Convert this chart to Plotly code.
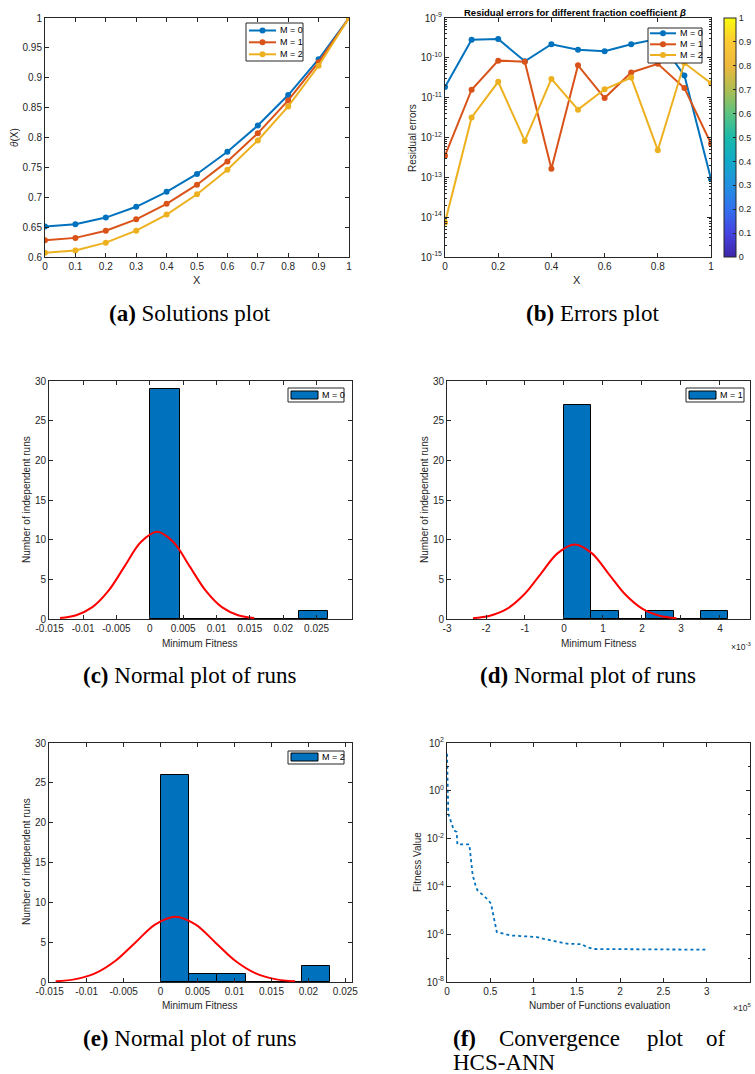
import plotly.graph_objects as go

W, H = 755, 1074

# ---------------- data ----------------
X_POINTS = [0.0, 0.1, 0.2, 0.3, 0.4, 0.5, 0.6, 0.7, 0.8, 0.9, 1.0]
SERIES = ["M = 0", "M = 1", "M = 2"]

theta_M0 = [0.651, 0.655, 0.666, 0.684, 0.709, 0.739, 0.776, 0.820, 0.871, 0.931, 1.0]
theta_M1 = [0.628, 0.632, 0.644, 0.663, 0.689, 0.721, 0.760, 0.807, 0.862, 0.926, 1.0]
theta_M2 = [0.607, 0.611, 0.624, 0.644, 0.671, 0.705, 0.746, 0.795, 0.852, 0.920, 1.0]

err_M0 = [1.86e-11, 2.86e-10, 2.97e-10, 8.2e-11, 2.2e-10, 1.6e-10, 1.46e-10, 2.2e-10, 3.0e-10, 3.6e-11, 9.1e-14]
err_M1 = [3.5e-13, 1.58e-11, 8.5e-11, 8.0e-11, 1.65e-13, 6.5e-11, 9.8e-12, 4.3e-11, 7.1e-11, 1.75e-11, 7.0e-13]
err_M2 = [7.4e-15, 3.2e-12, 2.5e-11, 8.2e-13, 2.95e-11, 5.0e-12, 1.62e-11, 3.2e-11, 4.8e-13, 7.4e-11, 2.3e-11]

# histograms (bin centres, counts, bin width) and fitted normal curves
c_centers = [0.00232, 0.00676, 0.0112, 0.01564, 0.02008, 0.02452]
c_counts = [29, 0, 0, 0, 0, 1]
c_width = 0.00444
c_fit_x = [-0.01345, -0.01103, -0.0086, -0.00618, -0.00375, -0.00133, 0.0011,
           0.00353, 0.00595, 0.00838, 0.0108, 0.01323, 0.01565]
c_fit_y = [0.12, 0.48, 1.49, 3.57, 6.67, 9.71, 11.0, 9.71, 6.67, 3.57, 1.49, 0.48, 0.12]

d_centers = [0.0003515, 0.0010545, 0.0017575, 0.0024605, 0.0031635, 0.0038665]
d_counts = [27, 1, 0, 1, 0, 1]
d_width = 0.000703
d_fit_x = [-0.002335, -0.0019, -0.001465, -0.00103, -0.000595, -0.00016, 0.000275,
           0.00071, 0.001145, 0.00158, 0.002015, 0.00245, 0.002885]
d_fit_y = [0.10, 0.41, 1.27, 3.05, 5.70, 8.30, 9.40, 8.30, 5.70, 3.05, 1.27, 0.41, 0.10]

e_centers = [0.001915, 0.005745, 0.009575, 0.013405, 0.017235, 0.021065]
e_counts = [26, 1, 1, 0, 0, 2]
e_width = 0.00383
e_fit_x = [-0.0142, -0.0115, -0.0088, -0.0061, -0.0034, -0.0007, 0.002,
           0.0047, 0.0074, 0.0101, 0.0128, 0.0155, 0.0182]
e_fit_y = [0.09, 0.36, 1.11, 2.66, 4.97, 7.24, 8.2, 7.24, 4.97, 2.66, 1.11, 0.36, 0.09]

f_evals = [0, 400, 1500, 5400, 8100, 11200, 12000, 25800, 27400, 29700, 33600, 35100,
           45900, 50900, 52400, 57500, 72900, 103700, 111500, 123000, 138500, 155800,
           161600, 169300, 300000]
f_fitness = [35.8, 1.05, 0.11, 0.042, 0.022, 0.019, 0.0057, 0.0057, 0.0017, 2.9e-4, 9.3e-5,
             6.9e-5, 3.1e-5, 1.9e-5, 1.0e-5, 1.23e-6, 8.9e-7, 7.6e-7, 6.4e-7, 5.2e-7,
             4.0e-7, 3.8e-7, 2.9e-7, 2.4e-7, 2.25e-7]

# tick labels
a_xticks = X_POINTS
a_xlabels = ["0", "0.1", "0.2", "0.3", "0.4", "0.5", "0.6", "0.7", "0.8", "0.9", "1"]
a_yticks = [0.6, 0.65, 0.7, 0.75, 0.8, 0.85, 0.9, 0.95, 1.0]
a_ylabels = ["0.6", "0.65", "0.7", "0.75", "0.8", "0.85", "0.9", "0.95", "1"]
b_xticks = [0, 0.2, 0.4, 0.6, 0.8, 1.0]
b_xlabels = ["0", "0.2", "0.4", "0.6", "0.8", "1"]
b_yticks = [1e-15, 1e-14, 1e-13, 1e-12, 1e-11, 1e-10, 1e-9]
b_ylabels = ["10<sup>-15</sup>", "10<sup>-14</sup>", "10<sup>-13</sup>", "10<sup>-12</sup>",
             "10<sup>-11</sup>", "10<sup>-10</sup>", "10<sup>-9</sup>"]
cb_ticks = [0, 0.1, 0.2, 0.3, 0.4, 0.5, 0.6, 0.7, 0.8, 0.9, 1.0]
cb_labels = ["0", "0.1", "0.2", "0.3", "0.4", "0.5", "0.6", "0.7", "0.8", "0.9", "1"]
hist_yticks = [0, 5, 10, 15, 20, 25, 30]
hist_ylabels = ["0", "5", "10", "15", "20", "25", "30"]
c_xticks = [-0.015, -0.01, -0.005, 0, 0.005, 0.01, 0.015, 0.02, 0.025]
c_xlabels = ["-0.015", "-0.01", "-0.005", "0", "0.005", "0.01", "0.015", "0.02", "0.025"]
d_xticks = [-0.003, -0.002, -0.001, 0, 0.001, 0.002, 0.003, 0.004]
d_xlabels = ["-3", "-2", "-1", "0", "1", "2", "3", "4"]
e_xticks = c_xticks
e_xlabels = c_xlabels
f_xticks = [0, 50000, 100000, 150000, 200000, 250000, 300000, 350000]
f_xlabels = ["0", "0.5", "1", "1.5", "2", "2.5", "3", "3.5"]
f_yticks = [1e-8, 1e-6, 1e-4, 1e-2, 1, 100]
f_ylabels = ["10<sup>-8</sup>", "10<sup>-6</sup>", "10<sup>-4</sup>", "10<sup>-2</sup>",
             "10<sup>0</sup>", "10<sup>2</sup>"]

# ---------------- style ----------------
BLUE, ORANGE, YELLOW = "#0072BD", "#D95319", "#EDB120"
COLORS = [BLUE, ORANGE, YELLOW]
AX = "#262626"
SANS = "Liberation Sans"
SERIF = "Liberation Serif"
PARULA = [[0.0, "#3e26a8"], [0.1, "#4543e1"], [0.2, "#3270ee"], [0.3, "#2290e0"],
          [0.4, "#12a9c8"], [0.5, "#1bb9aa"], [0.6, "#5cc380"], [0.7, "#aebd52"],
          [0.8, "#eeb83c"], [0.9, "#fcc932"], [1.0, "#f9fb0e"]]


def px(x):
    return x / W


def py(y):
    return 1 - y / H


def xd(l, r):
    return [px(l), px(r)]


def yd(t, b):
    return [py(b), py(t)]


def axis(domain, anchor, rng, tv, tt, typ="linear", minor=None):
    d = dict(domain=domain, anchor=anchor, range=rng, type=typ, tickvals=tv, ticktext=tt,
             showline=True, linecolor=AX, linewidth=1, mirror="ticks", ticks="inside",
             ticklen=4, tickcolor=AX, tickwidth=1, showgrid=False, zeroline=False,
             automargin=False, tickangle=0,
             tickfont=dict(family=SANS, size=10, color=AX))
    if minor is not None:
        d["minor"] = minor
    return d


fig = go.Figure()

# (a) solutions
for i, ys in enumerate([theta_M0, theta_M1, theta_M2]):
    fig.add_trace(go.Scatter(x=X_POINTS, y=ys, mode="lines+markers", name=SERIES[i],
                             line=dict(color=COLORS[i], width=2),
                             marker=dict(color=COLORS[i], size=6),
                             xaxis="x", yaxis="y", showlegend=False))

# (b) errors
for i, ys in enumerate([err_M0, err_M1, err_M2]):
    fig.add_trace(go.Scatter(x=X_POINTS, y=ys, mode="lines+markers", name=SERIES[i],
                             line=dict(color=COLORS[i], width=2),
                             marker=dict(color=COLORS[i], size=6),
                             xaxis="x2", yaxis="y2", showlegend=False))
fig.add_trace(go.Scatter(x=[None], y=[None], mode="markers", showlegend=False,
                         xaxis="x2", yaxis="y2",
                         marker=dict(color=[0], colorscale=PARULA, cmin=0, cmax=1,
                                     showscale=True,
                                     colorbar=dict(x=px(724), xanchor="left", xpad=0, ypad=0,
                                                   y=py(257), yanchor="bottom",
                                                   len=(257 - 18) / H, lenmode="fraction",
                                                   thickness=12, thicknessmode="pixels",
                                                   tickvals=cb_ticks, ticktext=cb_labels,
                                                   ticks="inside", ticklen=3, tickcolor=AX,
                                                   outlinecolor=AX, outlinewidth=1,
                                                   tickfont=dict(family=SANS, size=9, color=AX)))))

# (c), (d), (e) histograms with normal fit
hist = [(c_centers, c_counts, c_width, c_fit_x, c_fit_y, "x3", "y3", SERIES[0]),
        (d_centers, d_counts, d_width, d_fit_x, d_fit_y, "x4", "y4", SERIES[1]),
        (e_centers, e_counts, e_width, e_fit_x, e_fit_y, "x5", "y5", SERIES[2])]
for cen, cnt, wd, fx, fy, xa, ya, nm in hist:
    fig.add_trace(go.Bar(x=cen, y=cnt, width=wd, name=nm, xaxis=xa, yaxis=ya, showlegend=False,
                         marker=dict(color=BLUE, line=dict(color="black", width=1))))
    fig.add_trace(go.Scatter(x=fx, y=fy, mode="lines", showlegend=False, xaxis=xa, yaxis=ya,
                             line=dict(color="red", width=2, shape="spline")))

# (f) convergence
fig.add_trace(go.Scatter(x=f_evals, y=f_fitness, mode="lines", showlegend=False,
                         xaxis="x6", yaxis="y6",
                         line=dict(color=BLUE, width=1.8, dash="dot")))

log_minor_b = dict(ticks="inside", ticklen=2, tickcolor=AX,
                   tickvals=[m * 10.0 ** e for e in range(-15, -9) for m in range(2, 10)])
log_minor_f = dict(ticks="inside", ticklen=2, tickcolor=AX,
                   tickvals=[10.0 ** e for e in range(-7, 2, 2)])

fig.update_layout(
    width=W, height=H, margin=dict(l=0, r=0, t=0, b=0, autoexpand=False),
    paper_bgcolor="white", plot_bgcolor="white", bargap=0, showlegend=False,
    xaxis=axis(xd(45, 349), "y", [0, 1], a_xticks, a_xlabels),
    yaxis=axis(yd(18, 257), "x", [0.6, 1], a_yticks, a_ylabels),
    xaxis2=axis(xd(445, 711), "y2", [0, 1], b_xticks, b_xlabels),
    yaxis2=axis(yd(18, 257), "x2", [-15, -9], b_yticks, b_ylabels, "log", log_minor_b),
    xaxis3=axis(xd(49, 352), "y3", [-0.0151, 0.0303], c_xticks, c_xlabels),
    yaxis3=axis(yd(381, 619), "x3", [0, 30], hist_yticks, hist_ylabels),
    xaxis4=axis(xd(447, 750), "y4", [-0.003, 0.00477], d_xticks, d_xlabels),
    yaxis4=axis(yd(381, 619), "x4", [0, 30], hist_yticks, hist_ylabels),
    xaxis5=axis(xd(49, 352), "y5", [-0.0151, 0.0259], e_xticks, e_xlabels),
    yaxis5=axis(yd(743, 982), "x5", [0, 30], hist_yticks, hist_ylabels),
    xaxis6=axis(xd(447, 750), "y6", [0, 350000], f_xticks, f_xlabels),
    yaxis6=axis(yd(743, 982), "x6", [-8, 2], f_yticks, f_ylabels, "log", log_minor_f),
)


def note(text, x, y, size=10, angle=0, family=SANS, color=AX, xanchor="center"):
    fig.add_annotation(text=text, x=px(x), y=py(y), xref="paper", yref="paper",
                       showarrow=False, textangle=angle, xanchor=xanchor, yanchor="middle",
                       font=dict(family=family, size=size, color=color))


def box(x0, y0, x1, y1):
    fig.add_shape(type="rect", xref="paper", yref="paper", x0=px(x0), x1=px(x1),
                  y0=py(y1), y1=py(y0), fillcolor="white", line=dict(color=AX, width=1))


# legends for line plots (a) and (b)
def line_legend(bx0, by0, bx1, by1, lx0, lx1, tx, rows):
    box(bx0, by0, bx1, by1)
    for i, yy in enumerate(rows):
        fig.add_shape(type="line", xref="paper", yref="paper", x0=px(lx0), x1=px(lx1),
                      y0=py(yy), y1=py(yy), line=dict(color=COLORS[i], width=2))
        mx = (lx0 + lx1) / 2
        fig.add_shape(type="circle", xref="paper", yref="paper", x0=px(mx - 3), x1=px(mx + 3),
                      y0=py(yy + 3), y1=py(yy - 3), fillcolor=COLORS[i],
                      line=dict(color=COLORS[i], width=0))
        note(SERIES[i], tx, yy, 9, color="black", xanchor="left")


line_legend(246, 23, 303, 61, 249, 276, 278, [30.5, 42.3, 54.3])
line_legend(648, 28, 702, 63, 650, 676, 678, [33.3, 44.3, 55.0])


# legends for histograms
def bar_legend(bx0, by0, bx1, by1, sx0, sx1, sy0, sy1, tx, label):
    box(bx0, by0, bx1, by1)
    fig.add_shape(type="rect", xref="paper", yref="paper", x0=px(sx0), x1=px(sx1),
                  y0=py(sy1), y1=py(sy0), fillcolor=BLUE, line=dict(color="black", width=1))
    note(label, tx, (sy0 + sy1) / 2, 9, color="black", xanchor="left")


bar_legend(288, 388, 344, 402, 291, 318, 391, 399, 320, SERIES[0])
bar_legend(686, 388, 744, 402, 689, 716, 391, 399, 718, SERIES[1])
bar_legend(288, 751, 344, 764, 291, 318, 753, 761, 320, SERIES[2])

# axis titles
note("X", 197, 280, 11)
note("<i>θ</i>(X)", 14, 138, 10, -90)
note("X", 577, 280, 11)
note("Residual errors", 412, 138, 10, -90)
note("<b>Residual errors for different fraction coefficient <i>β</i></b>", 575, 13, 9.5, color="black")
note("Minimum Fitness", 200, 643, 10)
note("Number of independent runs", 26, 500, 10, -90)
note("Minimum Fitness", 599, 643, 10)
note("Number of independent runs", 424, 500, 10, -90)
note("×10<sup>-3</sup>", 753, 646, 8.5, xanchor="right")
note("Minimum Fitness", 200, 1005, 10)
note("Number of independent runs", 26, 862, 10, -90)
note("Number of Functions evaluation", 599, 1005, 10)
note("Fitness Value", 417, 862, 10, -90)
note("×10<sup>5</sup>", 753, 1007, 8.5, xanchor="right")

# captions
CAP = 23
note("<b>(a)</b> Solutions plot", 190, 313, CAP, family=SERIF, color="black")
note("<b>(b)</b> Errors plot", 592, 313, CAP, family=SERIF, color="black")
note("<b>(c)</b> Normal plot of runs", 189, 675, CAP, family=SERIF, color="black")
note("<b>(d)</b> Normal plot of runs", 588, 675, CAP, family=SERIF, color="black")
note("<b>(e)</b> Normal plot of runs", 189, 1038, CAP, family=SERIF, color="black")
note("<b>(f)</b>", 451, 1038, CAP, family=SERIF, color="black", xanchor="left")
note("Convergence", 497, 1038, CAP, family=SERIF, color="black", xanchor="left")
note("plot", 645, 1038, CAP, family=SERIF, color="black", xanchor="left")
note("of", 704, 1038, CAP, family=SERIF, color="black", xanchor="left")
note("HCS-ANN", 451, 1062, CAP, family=SERIF, color="black", xanchor="left")

fig.write_html("out.html", config={"displayModeBar": False},
               post_script="document.body.style.margin='0px';")
